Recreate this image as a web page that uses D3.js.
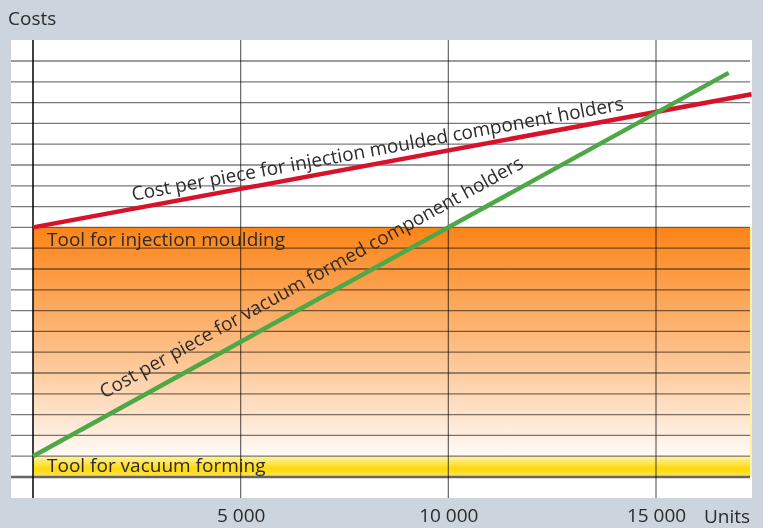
<!DOCTYPE html>
<html>
  <head>
    <script src="https://d3js.org/d3.v7.min.js"></script>
    <style>
      body { margin: 0; background: #ccd5dd; }
      text { font-family: "Open Sans", sans-serif; fill: #2b2b2b; }
    </style>
  </head>
  <body>
    <script>
      // data (units produced vs. cost, cost in grid steps)
      var injectionUnits = [0, 17300];
      var injectionCost = [12, 18.4];
      var vacuumUnits = [0, 16750];
      var vacuumCost = [1, 19.43];
      var toolInjection = 12;
      var toolVacuum = 1;
      var unitTicks = [5000, 10000, 15000];
      var unitGrid = [0, 5000, 10000, 15000];

      var width = 763, height = 528;

      var svg = d3.select("body").append("svg")
          .attr("width", width)
          .attr("height", height);

      var x = d3.scaleLinear().domain([0, 15000]).range([33, 656]);
      var y = d3.scaleLinear().domain([0, 20]).range([477, 61]);

      var defs = svg.append("defs");
      var og = defs.append("linearGradient").attr("id", "orange")
          .attr("x1", 0).attr("y1", 0).attr("x2", 0).attr("y2", 1);
      og.append("stop").attr("offset", "0%").attr("stop-color", "#fc8418");
      og.append("stop").attr("offset", "45%").attr("stop-color", "#fdb574");
      og.append("stop").attr("offset", "100%").attr("stop-color", "#fffaf7");
      var yg = defs.append("linearGradient").attr("id", "yellow")
          .attr("x1", 0).attr("y1", 0).attr("x2", 0).attr("y2", 1);
      yg.append("stop").attr("offset", "0%").attr("stop-color", "#fff3a8");
      yg.append("stop").attr("offset", "60%").attr("stop-color", "#ffd90a");
      yg.append("stop").attr("offset", "100%").attr("stop-color", "#ffe55e");

      /* white plot area */
      svg.append("rect")
          .attr("x", 11).attr("y", 40)
          .attr("width", 741).attr("height", 458)
          .attr("fill", "#fff");

      /* tool cost blocks */
      svg.append("rect")
          .attr("x", x(0)).attr("y", y(toolInjection))
          .attr("width", 750 - x(0)).attr("height", y(toolVacuum) - y(toolInjection))
          .attr("fill", "url(#orange)");
      svg.append("rect")
          .attr("x", x(0)).attr("y", y(toolVacuum))
          .attr("width", 750 - x(0)).attr("height", y(0) - y(toolVacuum))
          .attr("fill", "url(#yellow)");
      svg.append("line")
          .attr("x1", 751).attr("x2", 751)
          .attr("y1", y(toolInjection)).attr("y2", y(0))
          .attr("stroke", "#fff2a0").attr("stroke-width", 2);

      /* horizontal grid */
      svg.append("g").selectAll("line")
          .data(d3.range(1, 21))
        .enter().append("line")
          .attr("x1", 11).attr("x2", 750)
          .attr("y1", function(d) { return y(d); })
          .attr("y2", function(d) { return y(d); })
          .attr("stroke", "#7a7a7a")
          .attr("stroke-width", 1.3)
          .style("mix-blend-mode", "multiply");

      svg.append("line")
          .attr("x1", 11).attr("x2", 750)
          .attr("y1", y(0)).attr("y2", y(0))
          .attr("stroke", "#666").attr("stroke-width", 2.5);

      /* vertical grid */
      svg.append("g").selectAll("line")
          .data(unitGrid)
        .enter().append("line")
          .attr("x1", function(d) { return x(d); })
          .attr("x2", function(d) { return x(d); })
          .attr("y1", 40).attr("y2", 498)
          .attr("stroke", function(d) { return d === 0 ? "#111" : "#666"; })
          .attr("stroke-width", function(d) { return d === 0 ? 1.6 : 1.2; })
          .style("mix-blend-mode", "multiply");

      /* tool labels */
      svg.append("text")
          .attr("x", 47).attr("y", y(toolInjection) + 19)
          .style("font-size", "19px")
          .text("Tool for injection moulding");
      svg.append("text")
          .attr("x", 47).attr("y", y(toolVacuum) + 16)
          .style("font-size", "19px")
          .text("Tool for vacuum forming");

      /* cost lines */
      var line = d3.line()
          .x(function(d) { return x(d[0]); })
          .y(function(d) { return y(d[1]); });

      svg.append("path")
          .datum(d3.zip(injectionUnits, injectionCost))
          .attr("d", line)
          .attr("fill", "none")
          .attr("stroke", "#d8122b")
          .attr("stroke-width", 4.5);

      svg.append("path")
          .datum(d3.zip(vacuumUnits, vacuumCost))
          .attr("d", line)
          .attr("fill", "none")
          .attr("stroke", "#4ea847")
          .attr("stroke-width", 4.5);

      /* labels along the lines */
      function lineLabel(us, cs, startU, offset, len, label) {
        var ang = Math.atan2(y(cs[1]) - y(cs[0]), x(us[1]) - x(us[0]));
        var c = cs[0] + (cs[1] - cs[0]) * (startU - us[0]) / (us[1] - us[0]);
        svg.append("text")
            .attr("transform", "translate(" + x(startU) + "," + y(c) + ") rotate(" + (ang * 180 / Math.PI) + ")")
            .attr("y", -offset)
            .attr("textLength", len)
            .attr("lengthAdjust", "spacingAndGlyphs")
            .style("font-size", "19px")
            .text(label);
      }
      lineLabel(injectionUnits, injectionCost, 2440, 8, 500,
                "Cost per piece for injection moulded component holders");
      lineLabel(vacuumUnits, vacuumCost, 1900, 16, 480,
                "Cost per piece for vacuum formed component holders");

      /* x axis labels */
      var xAxis = d3.axisBottom(x)
          .tickValues(unitTicks)
          .tickSize(0)
          .tickPadding(11)
          .tickFormat(function(d) { return d3.format(",")(d).replace(",", " "); });
      var ax = svg.append("g")
          .attr("transform", "translate(0,498)")
          .call(xAxis);
      ax.select(".domain").remove();
      ax.selectAll("text")
          .style("font-family", "'Open Sans', sans-serif")
          .style("font-size", "19px")
          .attr("fill", "#2b2b2b");

      svg.append("text")
          .attr("x", 704).attr("y", 523)
          .style("font-size", "19px")
          .text("Units");

      svg.append("text")
          .attr("x", 8).attr("y", 25)
          .style("font-size", "19px")
          .text("Costs");
    </script>
  </body>
</html>
